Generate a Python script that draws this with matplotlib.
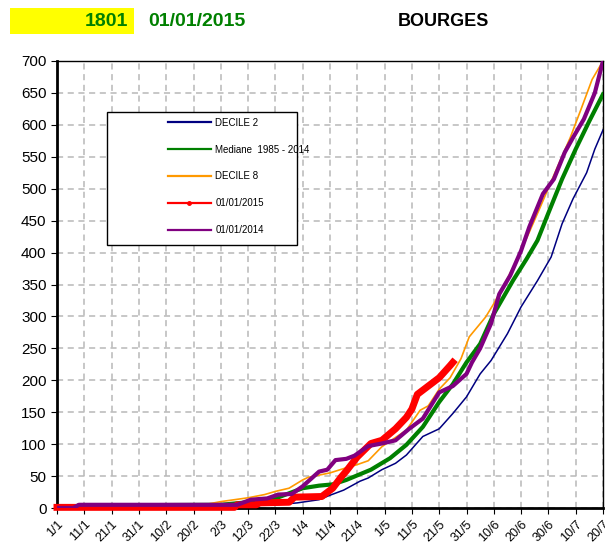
import matplotlib
matplotlib.use("Agg")
import matplotlib.pyplot as plt
import matplotlib.transforms as mtransforms
from matplotlib.lines import Line2D
from matplotlib.patches import Rectangle

plt.rcParams['font.family'] = ['Liberation Sans', 'DejaVu Sans']

# x axis: days since 1 January
TICK_DAYS = list(range(0, 201, 10))
TICK_LABELS = ["1/1", "11/1", "21/1", "31/1", "10/2", "20/2", "2/3", "12/3", "22/3",
               "1/4", "11/4", "21/4", "1/5", "11/5", "21/5", "31/5", "10/6", "20/6",
               "30/6", "10/7", "20/7"]

# DECILE 2
d2_days = [0, 6, 8, 60, 80, 88, 96, 100, 105, 111, 114, 119, 124, 128, 134, 140, 145,
           150, 155, 159, 165, 170, 176, 181, 185, 189, 194, 197, 200]
d2_vals = [0, 0, 4, 5, 5, 8, 13, 20, 28, 42, 47, 60, 70, 83, 112, 124, 148,
           174, 210, 231, 273, 315, 356, 393, 445, 484, 525, 562, 592]

# Mediane 1985 - 2014
med_days = [0, 6, 8, 60, 70, 80, 90, 96, 101, 106, 115, 122, 128, 134, 140, 145, 150,
            155, 160, 167, 172, 176, 180, 185, 190, 195, 200]
med_vals = [0, 0, 4, 5, 9, 15, 31, 35, 37, 44, 60, 78, 99, 127, 166, 194, 228,
            257, 304, 356, 390, 419, 462, 515, 562, 606, 648]

# DECILE 8
d8_days = [0, 6, 8, 55, 60, 70, 76, 80, 85, 90, 92, 100, 106, 110, 114, 119, 128, 133,
           136, 140, 144, 148, 151, 157, 160, 164, 168, 173, 177, 183, 188, 192, 196, 200]
d8_vals = [0, 0, 4, 6, 10, 16, 21, 26, 31, 44, 48, 55, 63, 68, 74, 96, 122, 153,
           160, 186, 204, 234, 268, 299, 320, 351, 385, 432, 471, 531, 580, 625, 671, 700]

# 01/01/2015
y15_days = [0, 65, 66, 73, 74, 85, 87, 97, 101, 104, 106, 110, 115, 119, 124, 128,
            130, 132, 136, 140, 144, 145]
y15_vals = [1, 1, 5, 5, 8, 9, 17, 18, 31, 48, 58, 80, 101, 106, 124, 142,
            155, 178, 191, 204, 223, 228]

# 01/01/2014
y14_days = [0, 6, 8, 66, 71, 77, 81, 86, 90, 96, 99, 102, 106, 109, 114, 119, 124, 129,
            134, 140, 145, 150, 152, 155, 159, 162, 166, 170, 173, 178, 182, 186, 189,
            193, 197, 200]
y14_vals = [0, 0, 5, 5, 13, 15, 21, 22, 34, 57, 60, 75, 77, 82, 97, 101, 106, 124,
            140, 181, 191, 210, 228, 250, 289, 335, 364, 403, 440, 492, 515, 557, 580,
            609, 650, 700]

LABELS = ["DECILE 2", "Mediane  1985 - 2014", "DECILE 8", "01/01/2015", "01/01/2014"]
COLORS = ["#000080", "#008000", "#FF9900", "#FF0000", "#800080"]

fig = plt.figure(figsize=(6.05, 5.44), dpi=100, facecolor='white')
ax = fig.add_axes([57 / 605, 1 - 508 / 544, 546 / 605, 447 / 544])

ax.plot(d2_days, d2_vals, color=COLORS[0], lw=1.1, zorder=3)
ax.plot(med_days, med_vals, color=COLORS[1], lw=3, zorder=3)
ax.plot(d8_days, d8_vals, color=COLORS[2], lw=1.2, zorder=3)
ax.plot(y15_days, y15_vals, color=COLORS[3], lw=5, marker='s', ms=3.5, mew=0,
        zorder=4.5, clip_on=False)
ax.plot(y14_days, y14_vals, color=COLORS[4], lw=3, zorder=4.6)

ax.set_xlim(0, 200)
ax.set_ylim(0, 700)
ax.set_xticks(TICK_DAYS)
ax.set_xticklabels(TICK_LABELS, rotation=45, ha='right', rotation_mode='anchor', fontsize=9)
# nudge rotated date labels left so the last one stays inside the picture
shift = mtransforms.ScaledTranslation(-5 / 72, 0, fig.dpi_scale_trans)
for lab in ax.get_xticklabels():
    lab.set_transform(lab.get_transform() + shift)
ax.set_yticks(range(0, 701, 50))
ax.tick_params(axis='y', labelsize=11, length=4, direction='out')
ax.tick_params(axis='x', length=4, direction='out')

ax.set_axisbelow(True)
ax.grid(True, color='#b8b8b8', linestyle=(0, (4, 3)), lw=1.1)
for side in ['left', 'bottom']:
    ax.spines[side].set_linewidth(2)
    ax.spines[side].set_zorder(4)
for side in ['top', 'right']:
    ax.spines[side].set_linewidth(1)

# legend box
ax.add_patch(Rectangle((0.0916, 0.588), 0.348, 0.298, transform=ax.transAxes,
                       facecolor='white', edgecolor='black', lw=1, zorder=6))
handles = [Line2D([], [], color=c, lw=1.6) for c in COLORS]
handles[3] = Line2D([], [], color=COLORS[3], lw=1.6, marker='o', ms=2.5)
leg = ax.legend(handles, LABELS, loc='upper left', bbox_to_anchor=(0.203, 0.873),
                frameon=False, fontsize=7, handlelength=4.4, handletextpad=0.5,
                labelspacing=1.73, borderpad=0, borderaxespad=0, numpoints=1)
leg.set_zorder(7)

# header
fig.patches.append(Rectangle((10 / 605, 1 - 34 / 544), 124 / 605, 26 / 544,
                             transform=fig.transFigure, facecolor='#FFFF00',
                             edgecolor='none'))
fig.text(128 / 605, 1 - 22 / 544, "1801", color='#008000', fontsize=14,
         weight='bold', ha='right', va='center')
fig.text(148 / 605, 1 - 22 / 544, "01/01/2015", color='#008000', fontsize=14,
         weight='bold', ha='left', va='center')
fig.text(443 / 605, 1 - 22 / 544, "BOURGES", color='black', fontsize=13,
         weight='bold', ha='center', va='center')

fig.savefig("out.png", dpi=100)
